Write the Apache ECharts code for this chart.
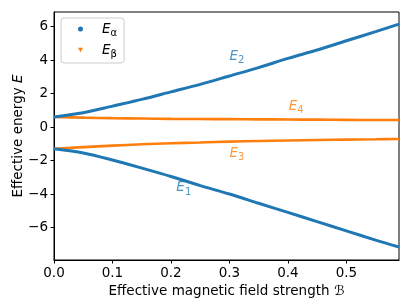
<!DOCTYPE html>
<html><head><meta charset="utf-8">
<script src="https://cdn.jsdelivr.net/npm/echarts@6/dist/echarts.min.js"></script>
<style>html,body{margin:0;padding:0;background:#fff}#c{width:411px;height:308px}</style>
</head><body><div id="c"></div>
<script>
const B = [0, 0.05, 0.1, 0.15, 0.2, 0.25, 0.3, 0.35, 0.4, 0.45, 0.5, 0.55, 0.59];
const E1 = [-1.3, -1.55, -1.97, -2.45, -2.95, -3.5, -4.0, -4.55, -5.1, -5.65, -6.2, -6.75, -7.16];
const E2 = [0.6, 0.85, 1.25, 1.65, 2.1, 2.55, 3.05, 3.55, 4.1, 4.6, 5.15, 5.7, 6.15];
const E3 = [-1.3, -1.2, -1.11, -1.03, -0.97, -0.92, -0.87, -0.83, -0.8, -0.77, -0.75, -0.73, -0.71];
const E4 = [0.6, 0.56, 0.53, 0.51, 0.49, 0.48, 0.47, 0.46, 0.45, 0.44, 0.43, 0.42, 0.42];
const xTicks = [0, 0.1, 0.2, 0.3, 0.4, 0.5];
const yTicks = [-6, -4, -2, 0, 2, 4, 6];
const labelNames = ['1', '2', '3', '4'];
const labelB = [0.222, 0.313, 0.313, 0.414];
const labelE = [-3.64, 4.24, -1.6, 1.25];
const labelGroup = ['a', 'a', 'b', 'b'];

const BLUE = '#1f77b4', ORANGE = '#ff7f0e';
const FONT = 'DejaVu Sans';
const FS = 13.5;
const pts = a => B.map((b, i) => [b, a[i]]);
const chart = echarts.init(document.getElementById('c'), null, {renderer: 'canvas'});
const lineSeries = (name, arr, color, w) => ({
  name, type: 'line', data: pts(arr), smooth: 0.3, showSymbol: false, symbol: 'none',
  lineStyle: {color, width: w}, itemStyle: {color}, z: 3, silent: true
});
const labelData = labelNames.map((n, i) => ({
  value: [labelB[i], labelE[i]],
  label: {color: labelGroup[i] === 'a' ? BLUE : ORANGE, formatter: '{e|E}{s|' + n + '}'}
}));
chart.setOption({
  animation: false,
  grid: {left: 54, right: 12, top: 12, bottom: 48, show: true, borderColor: '#000', borderWidth: 1,
         containLabel: false, outerBoundsMode: 'none'},
  graphic: [{
    type: 'text', x: 18, y: 136, rotation: Math.PI / 2,
    style: {
      text: '{t|Effective energy }{e|E}', align: 'center', verticalAlign: 'middle',
      rich: {t: {fontFamily: FONT, fontSize: FS, fill: '#000', color: '#000'},
             e: {fontFamily: FONT, fontSize: FS, fontStyle: 'italic', fill: '#000', color: '#000'}}
    }
  }],
  legend: {
    left: 61, top: 18, orient: 'vertical', itemWidth: 5, itemHeight: 5, itemGap: 5,
    backgroundColor: 'rgba(255,255,255,0.8)', borderColor: '#ccc', borderWidth: 1, borderRadius: 3,
    padding: [4, 7, 4, 17],
    data: [{name: 'Eα', icon: 'circle'}, {name: 'Eβ', icon: 'path://M0,0 L10,0 L5,9 Z'}],
    formatter: n => '{e|E}{s|' + n.slice(1) + '}',
    textStyle: {
      fontFamily: FONT, color: '#000', padding: [0, 0, 0, 14],
      rich: {e: {fontFamily: FONT, fontStyle: 'italic', fontSize: FS, color: '#000'},
             s: {fontFamily: FONT, fontSize: 10, color: '#000', padding: [8, 0, 0, 0]}}
    }
  },
  xAxis: {
    type: 'value', min: 0, max: 0.59,
    name: 'Effective magnetic field strength ℬ', nameLocation: 'middle', nameGap: 23,
    nameTextStyle: {fontFamily: FONT, fontSize: FS, color: '#000'},
    axisLine: {show: true, onZero: false, lineStyle: {color: '#000', width: 1}},
    axisTick: {show: true, inside: false, length: 3.5, customValues: xTicks, lineStyle: {color: '#000'}},
    axisLabel: {customValues: xTicks, fontFamily: FONT, fontSize: FS, color: '#000', margin: 6,
                formatter: v => v.toFixed(1)},
    splitLine: {show: false}
  },
  yAxis: {
    type: 'value', min: -7.94, max: 6.87,
    axisLine: {show: true, onZero: false, lineStyle: {color: '#000', width: 1}},
    axisTick: {show: true, inside: false, length: 3.5, customValues: yTicks, lineStyle: {color: '#000'}},
    axisLabel: {customValues: yTicks, fontFamily: FONT, fontSize: FS, color: '#000', margin: 6,
                formatter: v => (v < 0 ? '\u2212' + Math.abs(v) : '' + v)},
    splitLine: {show: false}
  },
  series: [
    lineSeries('Eβ', E3, ORANGE, 2.6),
    lineSeries('Eβ', E4, ORANGE, 2.6),
    lineSeries('Eα', E1, BLUE, 3),
    lineSeries('Eα', E2, BLUE, 3),
    {
      type: 'scatter', name: 'labels', data: labelData, symbolSize: 0, silent: true, z: 5,
      label: {show: true, position: 'inside',
        rich: {e: {fontFamily: FONT, fontStyle: 'italic', fontSize: FS},
               s: {fontFamily: FONT, fontSize: 10, padding: [8, 0, 0, 0]}}}
    }
  ]
});
</script></body></html>
